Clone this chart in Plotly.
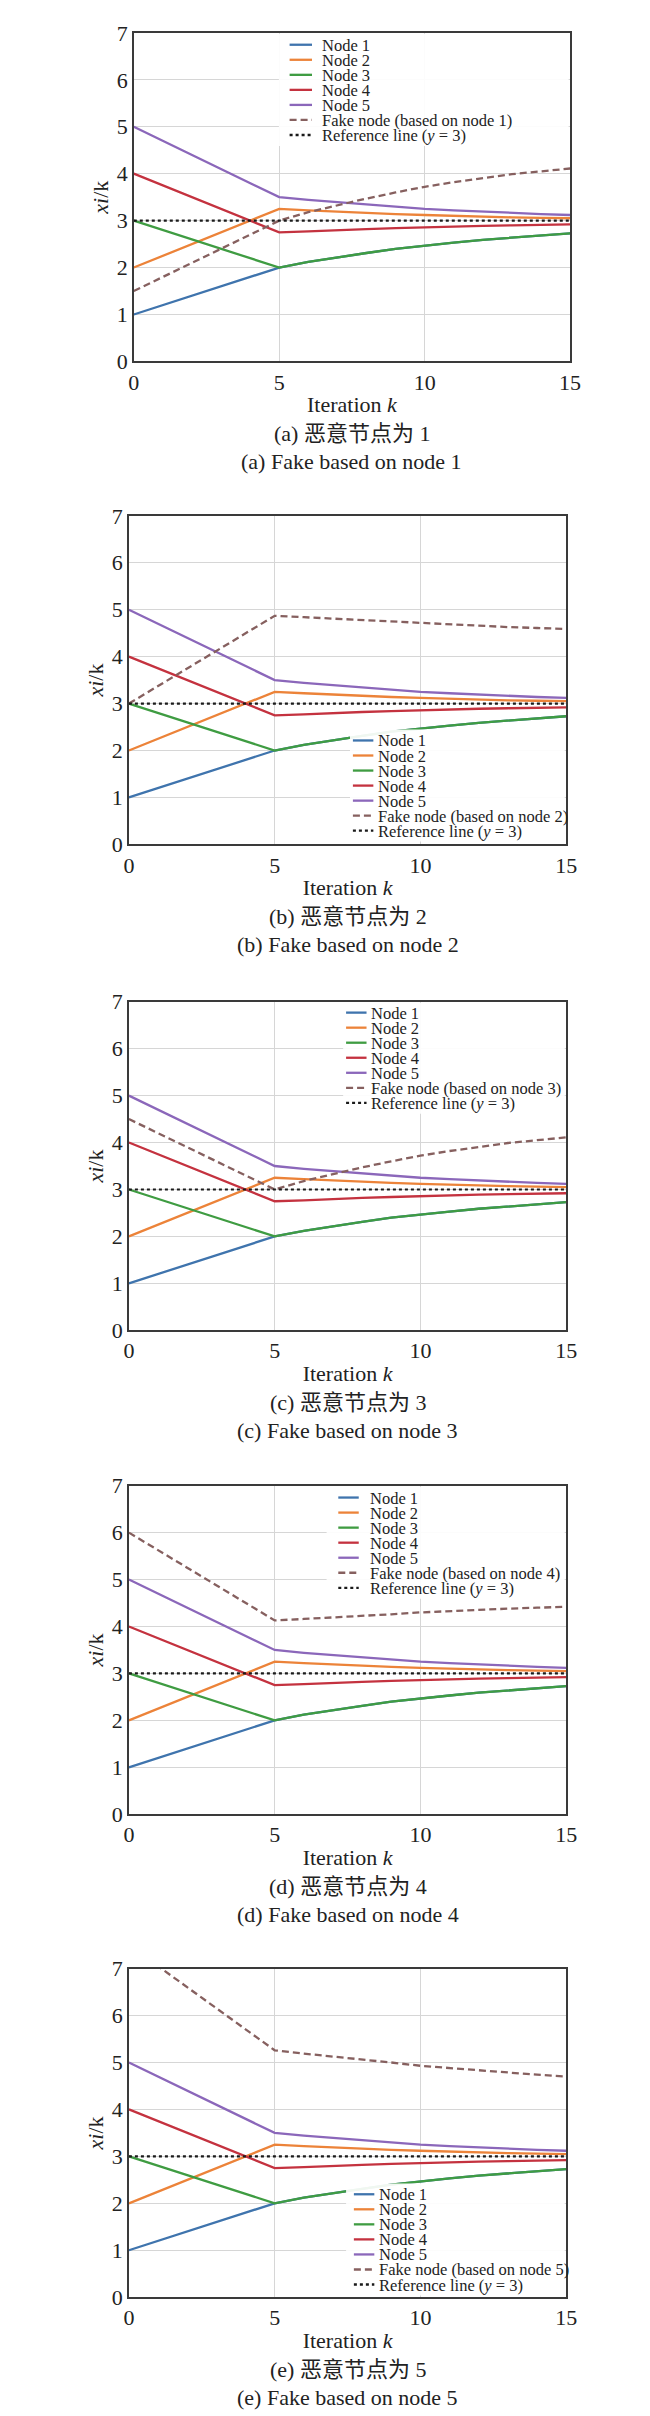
import plotly.graph_objects as go

# iterations (straight segment 0 -> 5, then every step to 15)
k = [0, 5, 6, 7, 8, 9, 10, 11, 12, 13, 14, 15]

node1 = [1.00, 2.00, 2.12, 2.22, 2.31, 2.40, 2.47, 2.53, 2.59, 2.64, 2.69, 2.73]
node2 = [2.00, 3.25, 3.22, 3.19, 3.17, 3.14, 3.12, 3.10, 3.09, 3.07, 3.06, 3.05]
node3 = [3.00, 2.00, 2.12, 2.22, 2.31, 2.40, 2.47, 2.53, 2.59, 2.64, 2.69, 2.73]
node4 = [4.00, 2.75, 2.77, 2.80, 2.82, 2.84, 2.86, 2.88, 2.89, 2.90, 2.91, 2.92]
node5 = [5.00, 3.50, 3.44, 3.39, 3.34, 3.29, 3.25, 3.22, 3.19, 3.16, 3.14, 3.12]

fake_a = [1.50, 3.00, 3.18, 3.33, 3.47, 3.60, 3.72, 3.82, 3.91, 3.99, 4.05, 4.11]
fake_b = [3.00, 4.87, 4.84, 4.81, 4.77, 4.74, 4.71, 4.68, 4.66, 4.63, 4.61, 4.59]
fake_c = [4.50, 3.00, 3.18, 3.33, 3.47, 3.60, 3.72, 3.82, 3.91, 3.99, 4.05, 4.11]
fake_d = [6.00, 4.13, 4.16, 4.19, 4.23, 4.26, 4.30, 4.33, 4.36, 4.38, 4.40, 4.42]
fake_e = [7.50, 5.26, 5.19, 5.13, 5.06, 5.00, 4.93, 4.88, 4.83, 4.78, 4.74, 4.70]

ref_k = [0, 15]
ref_y = [3, 3]

node_names = ['Node 1', 'Node 2', 'Node 3', 'Node 4', 'Node 5']
node_colors = ['#3f74ad', '#ec8339', '#3f9c42', '#c4323f', '#8b67ba']
fake_color = '#86605f'
ref_color = '#1a1a1a'
FAKE_DASH = '7px,4px'

fakes = [fake_a, fake_b, fake_c, fake_d, fake_e]
fake_base = ['1', '2', '3', '4', '5']
cap_cn = ['(a) 恶意节点为 1', '(b) 恶意节点为 2', '(c) 恶意节点为 3',
          '(d) 恶意节点为 4', '(e) 恶意节点为 5']
cap_en = ['(a) Fake based on node 1', '(b) Fake based on node 2',
          '(c) Fake based on node 3', '(d) Fake based on node 4',
          '(e) Fake based on node 5']

W, H = 650, 2416
SERIF = 'Liberation Serif, Times New Roman, Noto Sans CJK SC, serif'
TXT = '#222'

# panel frames in pixels: left, right, top
frames = [(123, 571, 13), (118, 567, 501), (118, 567, 992),
          (118, 567, 1481), (118, 567, 1969)]
PH = 332
# legend box (matplotlib style, tight rows): box left, first row y, handle x0, x1, text x
leg_spec = [(272, 25, 283, 306, 314), (345, 728, 348, 369, 372),
            (338, 1003, 341, 362, 365), (321, 1493, 333, 354, 364),
            (341, 2197, 349, 370, 373)]
ROW = 15.2


def px(x):
    return x / W


def py(y):
    return 1 - y / H


fig = go.Figure()
layout = dict(width=W, height=H, margin=dict(l=0, r=0, t=0, b=0),
              paper_bgcolor='white', plot_bgcolor='white', showlegend=False,
              font=dict(family=SERIF, color=TXT), annotations=[], shapes=[])

for i in range(5):
    sfx = '' if i == 0 else str(i + 1)
    xa, ya = 'x' + sfx, 'y' + sfx
    series = [node1, node2, node3, node4, node5]
    entries = []
    for name, vals, col in zip(node_names, series, node_colors):
        fig.add_trace(go.Scatter(x=k, y=vals, mode='lines', name=name,
                                 line=dict(color=col, width=2.3),
                                 xaxis=xa, yaxis=ya))
        entries.append((name, col, 'solid'))
    fake_name = 'Fake node (based on node %s)' % fake_base[i]
    fig.add_trace(go.Scatter(x=k, y=fakes[i], mode='lines', name=fake_name,
                             line=dict(color=fake_color, width=2.3, dash=FAKE_DASH),
                             xaxis=xa, yaxis=ya))
    entries.append((fake_name, fake_color, FAKE_DASH))
    ref_name = 'Reference line (<i>y</i> = 3)'
    fig.add_trace(go.Scatter(x=ref_k, y=ref_y, mode='lines', name=ref_name,
                             line=dict(color=ref_color, width=2.2, dash='dot'),
                             xaxis=xa, yaxis=ya))
    entries.append((ref_name, ref_color, 'dot'))

    left, right, top = frames[i]
    bottom = top + PH
    axis_common = dict(showline=True, mirror=True, linecolor='#3a3a3a', linewidth=1.5,
                       showgrid=True, gridcolor='#d6d6d6', gridwidth=1,
                       zeroline=False, ticks='', tickfont=dict(family=SERIF, size=22, color=TXT))
    layout['xaxis' + sfx] = dict(axis_common, domain=[px(left), px(right)], anchor=ya,
                                 range=[0, 15], tickvals=[0, 5, 10, 15],
                                 title=dict(text='Iteration <i>k</i>', standoff=3,
                                            font=dict(family=SERIF, size=22, color=TXT)))
    layout['yaxis' + sfx] = dict(axis_common, domain=[py(bottom), py(top)], anchor=xa,
                                 range=[0, 7], dtick=1,
                                 title=dict(text='<i>xi</i>/k', standoff=2,
                                            font=dict(family=SERIF, size=22, color=TXT)))

    # legend drawn as a white box with handle lines and labels
    bl, r0, hx0, hx1, tx = leg_spec[i]
    box_top = max(r0 - 11, top + 1)
    box_bot = min(r0 + ROW * (len(entries) - 1) + 11, bottom - 1)
    layout['shapes'].append(dict(type='rect', xref='paper', yref='paper', layer='above',
                                 x0=px(bl), x1=px(right - 1.5), y0=py(box_bot), y1=py(box_top),
                                 fillcolor='white', opacity=0.92, line=dict(width=0)))
    for j, (name, col, dash) in enumerate(entries):
        yy = r0 + ROW * j
        layout['shapes'].append(dict(type='line', xref='paper', yref='paper', layer='above',
                                     x0=px(hx0), x1=px(hx1), y0=py(yy), y1=py(yy),
                                     line=dict(color=col, width=2.3, dash=dash)))
        layout['annotations'].append(dict(text=name, x=px(tx), y=py(yy + 0.5),
                                          xref='paper', yref='paper', showarrow=False,
                                          xanchor='left', yanchor='middle',
                                          font=dict(family=SERIF, size=16.5, color=TXT)))

    cx = px((left + right) / 2)
    layout['annotations'].append(dict(text=cap_cn[i], x=cx, y=py(bottom + 73),
                                      xref='paper', yref='paper', showarrow=False,
                                      xanchor='center', yanchor='middle',
                                      font=dict(family=SERIF, size=22, color=TXT)))
    layout['annotations'].append(dict(text=cap_en[i], x=cx, y=py(bottom + 101),
                                      xref='paper', yref='paper', showarrow=False,
                                      xanchor='center', yanchor='middle',
                                      font=dict(family=SERIF, size=22, color=TXT)))

fig.update_layout(**layout)
fig.write_html('out.html')
